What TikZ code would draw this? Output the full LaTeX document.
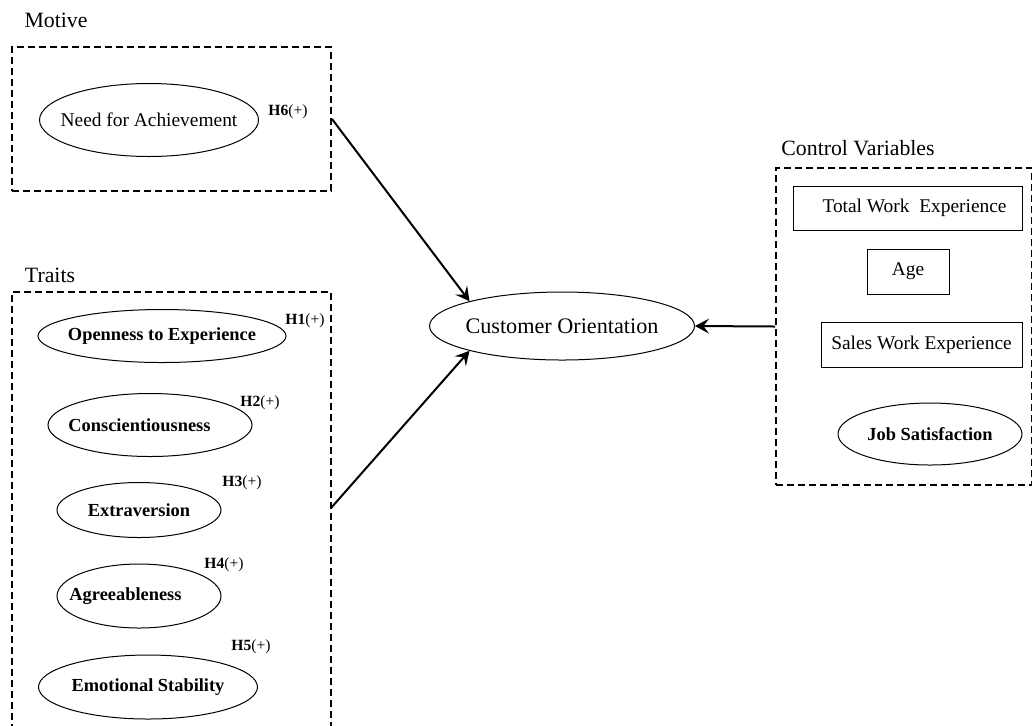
\documentclass[tikz,border=0pt]{standalone}
\usepackage{fontspec}
\setmainfont{Liberation Serif}
\usetikzlibrary{shapes.geometric, arrows.meta, positioning}

% text that does not widen its ellipse
\newcommand{\nowide}[1]{\makebox[0pt]{#1}}

\begin{document}
\begin{tikzpicture}[
    x=0.5pt, y=-0.5pt,
    trait/.style={ellipse, draw, line width=0.5pt, inner sep=0pt, font=\fontsize{9.2}{11}\selectfont\bfseries},
    motive/.style={ellipse, draw, line width=0.5pt, inner sep=0pt, font=\fontsize{9.7}{11}\selectfont},
    control/.style={rectangle, draw, line width=0.5pt, inner sep=0pt, font=\fontsize{9.7}{11}\selectfont},
    group/.style={rectangle, draw, line width=1pt, dash pattern=on 3.5pt off 2pt, inner sep=0pt},
    heading/.style={font=\fontsize{10.9}{12}\selectfont},
    hyp/.style={font=\fontsize{7.8}{9}\selectfont, inner sep=0pt},
    arrow/.style={-{Stealth[length=7pt, width=7.5pt, inset=2.8pt]}, line width=1pt}
]
    \useasboundingbox (0,0) rectangle (1032,725);

    % Motive
    \node[heading] (motivelbl) at (56,20) {Motive};
    \node[group, minimum width=159.5pt, minimum height=72pt] (motivebox) at (171.5,119) {};
    \node[motive, minimum width=109.5pt, minimum height=36.5pt] (needach) at (149,120) {\nowide{Need for Achievement}};
    \node[hyp] (h6) at (288,112) {\textbf{H6}(+)};

    % Traits
    \node[heading] (traitslbl) at (50,275) {Traits};
    \node[group, minimum width=159.5pt, minimum height=224pt] (traitsbox) at (171.5,516) {};
    \node[trait, minimum width=124pt, minimum height=26.5pt] (openness) at (162,336) {\nowide{Openness to Experience}};
    \node[trait, minimum width=102pt, minimum height=31.5pt] (consc) at (150,425) {\nowide{Conscientiousness\hspace*{10.5pt}}};
    \node[trait, minimum width=82pt, minimum height=27.5pt] (extra) at (139,510) {\nowide{Extraversion}};
    \node[trait, minimum width=82pt, minimum height=32pt] (agree) at (139,596) {\nowide{Agreeableness\hspace*{13.5pt}}};
    \node[trait, minimum width=109.5pt, minimum height=32pt] (emostab) at (148,687) {\nowide{Emotional Stability}};
    \node[hyp] (h1) at (305,321) {\textbf{H1}(+)};
    \node[hyp] (h2) at (260,403) {\textbf{H2}(+)};
    \node[hyp] (h3) at (242,483) {\textbf{H3}(+)};
    \node[hyp] (h4) at (224,565) {\textbf{H4}(+)};
    \node[hyp] (h5) at (251,647) {\textbf{H5}(+)};

    % Outcome
    \node[ellipse, draw, line width=0.5pt, inner sep=0pt, minimum width=132.5pt, minimum height=34pt,
        font=\fontsize{11.1}{13}\selectfont] (custorient) at (562,326) {\nowide{Customer Orientation}};

    % Control variables
    \node[heading] (ctrllbl) at (858,148) {Control Variables};
    \node[group, minimum width=128pt, minimum height=158.5pt] (ctrlbox) at (904,326.5) {};
    \node[control, minimum width=114.5pt, minimum height=22pt] (totalwork) at (907.5,208) {\hspace*{7pt}Total Work\ \ Experience};
    \node[control, minimum width=41pt, minimum height=22.5pt] (age) at (908,271.5) {Age};
    \node[control, minimum width=100.5pt, minimum height=22.5pt] (saleswork) at (921.5,344.5) {Sales Work Experience};
    \node[trait, minimum width=92pt, minimum height=31pt] (jobsat) at (930,434) {\nowide{Job Satisfaction}};

    % Connections
    \coordinate (traitsout) at (331,508);
    \draw[arrow] (motivebox.east) -- (custorient.165);
    \draw[arrow] (traitsout) -- (custorient.195);
    \draw[arrow] (ctrlbox.west) -- (custorient.east);
\end{tikzpicture}
\end{document}
